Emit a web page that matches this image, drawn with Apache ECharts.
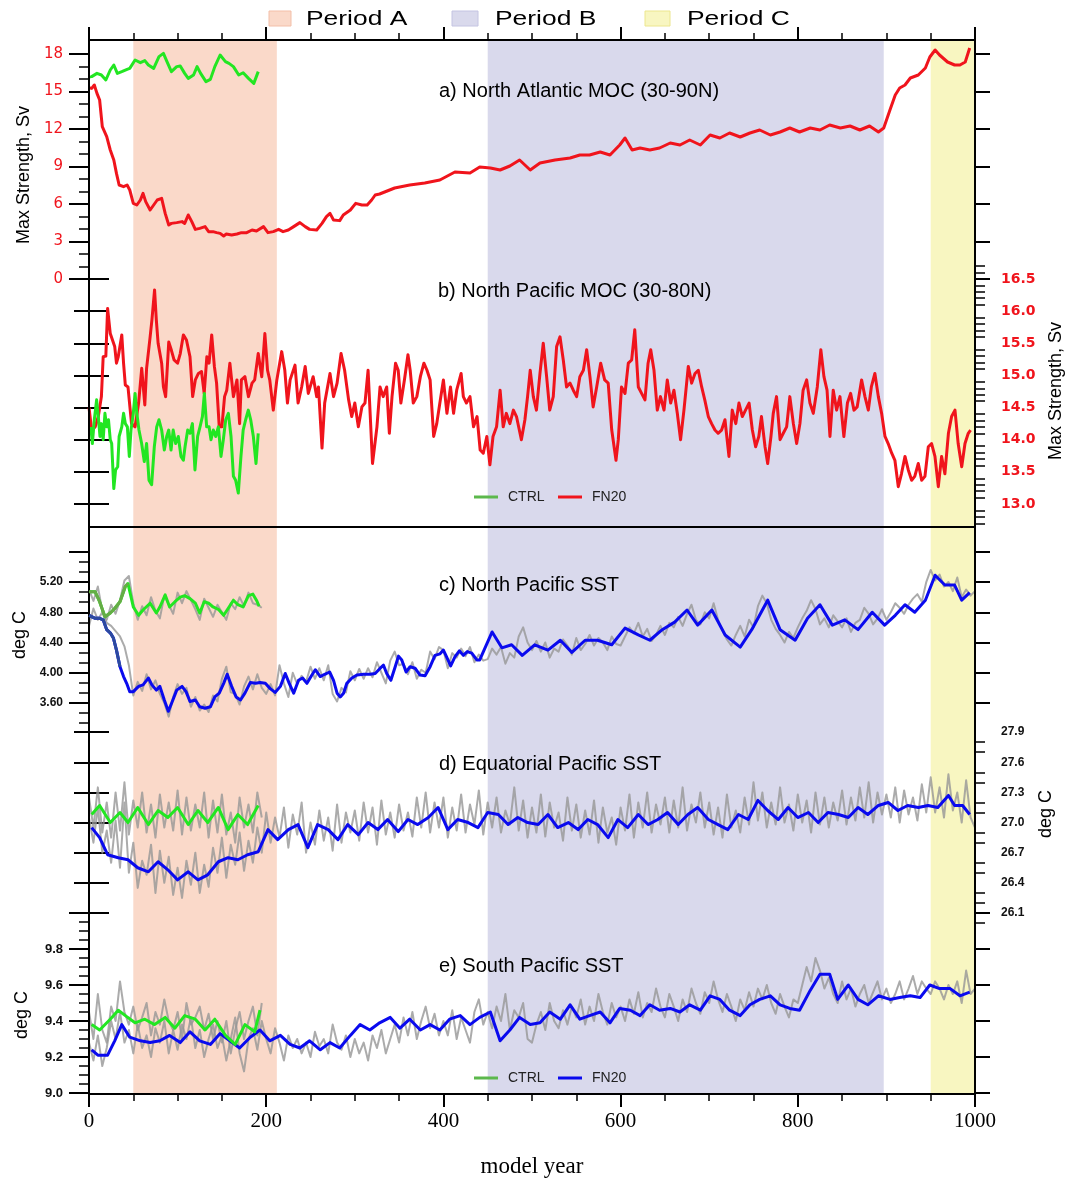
<!DOCTYPE html>
<html>
<head>
<meta charset="utf-8">
<script src="https://cdn.jsdelivr.net/npm/echarts@6/dist/echarts.min.js"></script>
<style>
html,body{margin:0;padding:0;background:#fff}
#chart{width:1067px;height:1179px}
</style>
</head>
<body>
<div id="chart"></div>
<script>
// ---------------- data ----------------
// shaded experiment periods (model years)
const periodA = [50, 212];
const periodB = [450, 897];
const periodC = [950, 1000];

// a) North Atlantic MOC max strength (Sv)
const aCTRL = [[0,16.15],[3,16.19],[9,16.45],[14,16.32],[19,15.92],[24,16.72],[28,17.12],[32,16.45],[37,16.59],[43,16.77],[46,16.85],[52,17.52],[58,17.31],[63,17.47],[67,17.12],[73,16.85],[79,17.79],[84,18.05],[88,17.39],[93,16.59],[99,16.99],[103,17.04],[108,16.45],[112,16.05],[118,16.32],[122,16.99],[126,16.45],[132,15.79],[137,15.97],[142,16.99],[148,17.92],[154,17.39],[158,17.25],[163,16.99],[169,16.32],[174,16.5],[180,16.05],[186,15.65],[191,16.59]];
const aFN20 = [[0,15.3],[3,15.25],[6,15.52],[9,14.85],[12,14.32],[15,12.19],[20,11.39],[24,10.32],[28,9.52],[31,8.45],[34,7.52],[39,7.39],[43,7.52],[46,7.12],[50,6.05],[54,5.92],[58,6.32],[61,6.85],[64,6.19],[69,5.52],[73,5.92],[77,6.32],[82,6.45],[86,5.25],[90,4.32],[93,4.45],[99,4.51],[105,4.59],[108,4.45],[112,5.12],[116,4.59],[120,3.97],[125,4.05],[131,4.19],[135,3.79],[140,3.79],[144,3.71],[148,3.65],[152,3.44],[155,3.6],[161,3.52],[167,3.6],[172,3.71],[178,3.71],[184,3.92],[189,3.84],[197,4.19],[202,3.71],[208,3.79],[214,3.97],[219,3.79],[225,3.92],[231,4.19],[238,4.51],[244,4.19],[249,3.97],[257,3.92],[263,4.45],[268,4.99],[272,5.25],[276,4.72],[283,4.67],[287,5.12],[295,5.52],[301,6.05],[308,5.92],[314,5.92],[319,6.32],[323,6.72],[328,6.8],[345,7.28],[362,7.52],[379,7.68],[396,7.92],[413,8.56],[430,8.48],[441,8.96],[453,8.88],[464,8.72],[475,9.04],[486,9.52],[498,8.72],[509,9.28],[526,9.52],[543,9.68],[554,9.92],[565,9.92],[577,10.16],[588,9.92],[599,10.72],[605,11.28],[613,10.32],[622,10.48],[633,10.32],[644,10.48],[656,10.88],[667,10.72],[678,11.12],[690,10.72],[701,11.52],[712,11.28],[723,11.68],[735,11.36],[746,11.68],[757,11.92],[769,11.52],[780,11.76],[791,12.08],[802,11.76],[814,12.08],[825,11.92],[836,12.32],[848,12.08],[859,12.24],[870,11.92],[881,12.24],[891,11.76],[897,12.08],[904,13.52],[910,14.72],[915,15.28],[921,15.52],[927,16.08],[936,16.32],[944,16.88],[949,17.76],[955,18.32],[960,17.92],[969,17.36],[977,17.12],[983,17.12],[989,17.36],[994,18.48]];

// b) North Pacific MOC max strength (Sv)
const bCTRL = [[2,14.2],[3.8,13.94],[6,14.31],[8.6,14.62],[10.5,14.36],[12.4,14.05],[14,14.25],[16,14.0],[18,14.41],[20,14.2],[22,14.31],[24,14.0],[25.6,13.94],[28,13.24],[30,13.53],[32.4,13.58],[34,14.05],[37,14.2],[39,14.41],[41,14.25],[43.3,14.2],[45.5,13.74],[47.4,14.15],[50,14.41],[52,14.72],[54,14.41],[56.4,14.15],[59.4,13.94],[62.4,13.66],[65,13.94],[67.7,13.37],[70.7,13.3],[73.7,13.89],[76.4,14.2],[79,14.31],[82,14.15],[85,13.84],[87.7,14.05],[90,14.15],[92.6,13.84],[95,14.15],[97.8,13.94],[100.8,14.05],[103.8,13.74],[106.5,13.68],[108.4,13.89],[111.4,14.15],[114,14.1],[116.7,14.25],[119.6,13.53],[122.6,14.05],[125.3,14.2],[128,14.36],[130.2,14.72],[132.8,14.2],[135.5,14.2],[137.7,14.0],[140.3,14.15],[143,14.05],[146,14.2],[149,13.74],[151.6,14.0],[154.3,14.31],[157.3,14.41],[160.3,14.05],[163,13.43],[165.5,13.37],[168.5,13.17],[171.5,13.74],[174,14.15],[176.8,14.31],[179.8,14.46],[182.5,14.31],[185.5,14.05],[188.5,13.63],[191,14.1]];
const bFN20 = [[0,14.5],[3,14.15],[7,14.2],[10.5,14.36],[14,14.67],[16,15.29],[19,15.3],[21,16.04],[24,15.65],[26,15.68],[29,15.45],[31,15.19],[33,15.29],[37,15.63],[39,15.19],[41,14.85],[44,14.82],[48,14.25],[52,14.2],[56,14.57],[59.5,15.11],[63,14.54],[65,15.11],[69,15.6],[71,15.86],[74,16.33],[76,15.86],[78,15.5],[82,15.19],[84,14.82],[86.5,14.67],[90,15.52],[93,15.39],[96,15.24],[100,15.19],[103,15.34],[106.5,15.63],[110,15.55],[114,15.29],[117,14.67],[120,14.93],[123.5,15.03],[127,15.06],[130,14.72],[133,15.29],[135.5,15.19],[138.5,15.63],[141.5,15.14],[144,14.88],[147,14.2],[150,14.2],[153,14.67],[155.5,14.77],[159,15.19],[163,14.67],[167,14.93],[170,14.25],[172,14.93],[176,14.98],[180,14.67],[184,14.88],[187,14.93],[191,15.34],[195,14.98],[198.5,15.65],[201.5,15.08],[204,14.93],[208,14.46],[212,14.93],[217.5,15.37],[221,15.08],[224,14.57],[227,14.93],[232.5,15.16],[236,14.57],[240,14.82],[244,15.14],[247.5,14.72],[253,14.98],[257,14.67],[259,14.82],[263,13.87],[266,14.57],[272,15.03],[276,14.67],[280,14.88],[284.5,15.34],[288.5,15.08],[293,14.62],[296.5,14.36],[300,14.57],[304,14.2],[308,14.51],[311.5,14.57],[315,15.08],[320,13.63],[325,14.2],[328.5,14.82],[332,14.67],[336,14.82],[339,14.1],[342,14.67],[346,15.19],[349,15.08],[352,14.57],[356,14.93],[360,15.32],[362.5,15.08],[366,14.57],[370,14.67],[374,14.98],[378,15.19],[381.5,15.08],[385,14.93],[389,14.05],[392.5,14.25],[396,14.57],[400,14.93],[404,14.41],[408,14.82],[411.5,14.41],[415,14.77],[420,15.03],[422.5,14.67],[426,14.57],[430,14.67],[434,14.2],[438,14.36],[441.5,13.84],[445,13.79],[449,14.05],[452.5,13.61],[456,14.05],[460,14.2],[464,14.77],[467.5,14.2],[471,14.41],[475,14.25],[479,14.46],[482.5,14.36],[488,14.0],[492,14.31],[495,14.67],[498,15.08],[501.5,14.67],[505,14.46],[509,15.03],[512.7,15.5],[516.5,14.98],[520,14.46],[524,14.67],[527.8,15.45],[531.6,15.6],[535.3,15.24],[539,14.82],[542.9,14.88],[546.6,14.77],[550.4,14.67],[554,14.98],[558,15.08],[561.7,15.4],[565.4,14.98],[569,14.51],[573,14.82],[577.5,15.19],[582,14.93],[586,14.88],[590,14.15],[594.8,13.68],[597.4,14.0],[601,14.82],[605,14.72],[608.7,15.19],[612.5,15.24],[616,15.71],[620,14.82],[623.7,14.72],[627.5,14.62],[631,15.19],[634,15.4],[637.7,15.08],[641.4,14.46],[645,14.67],[649,14.46],[652.7,14.93],[656.5,14.57],[660.2,14.77],[664,14.41],[667.7,14.0],[671.5,14.46],[676.4,15.14],[680.2,14.88],[684,15.03],[687.7,15.08],[691.5,14.82],[695,14.62],[699,14.36],[702.7,14.25],[706.5,14.15],[710,14.1],[714,14.15],[717.8,14.31],[722.3,13.74],[726,14.46],[730,14.25],[733.6,14.57],[737.4,14.36],[741,14.46],[745,14.57],[748.7,14.15],[752.4,13.89],[756,14.05],[759,14.36],[763,13.89],[766,13.63],[769.7,14.05],[772.3,14.41],[776,14.67],[780,14.0],[783.6,14.1],[787.4,14.2],[791,14.67],[795,14.25],[798.7,13.94],[802.4,14.25],[806,14.77],[810,14.93],[813.7,14.57],[817.5,14.41],[822,14.82],[826,15.4],[829.5,14.98],[833,14.77],[836.3,14.05],[840,14.77],[843.8,14.46],[847.6,14.67],[852,14.05],[856,14.57],[859.6,14.72],[863.4,14.46],[867,14.51],[872,14.93],[875.8,14.67],[879.6,14.46],[883,14.82],[887,15.03],[890.9,14.67],[894.6,14.41],[898.4,14.05],[902,13.94],[906,13.79],[909.6,13.68],[913.4,13.27],[917,13.47],[921,13.74],[924.7,13.53],[928.5,13.37],[932,13.43],[936,13.63],[939.8,13.37],[943.5,13.43],[947.3,13.89],[951,13.94],[954.8,13.74],[958.6,13.27],[962.3,13.74],[966,13.47],[970,14.1],[973.6,14.36],[977.4,14.46],[981,13.94],[985,13.58],[988.7,13.94],[992.4,14.1],[995,14.15]];

// annual SST series sampled every 5 model years (deg C)
const rawStep = 5;
const cRawCTRL = [5.10,4.95,5.14,4.82,4.70,4.90,4.78,4.96,5.22,5.28, 4.92,4.70,4.88,4.76,5.00,4.82,4.72,5.02,4.90,4.78, 5.06,4.92,5.08,4.96,4.84,4.70,4.98,4.86,4.74,4.90, 4.80,4.70,4.92,4.84,5.00,4.88,5.06,4.92,4.90,4.86];
const cRawFN20 = [4.62,4.85,4.70,4.80,4.66,4.62,4.55,4.48,4.35,4.10, 3.70,3.88,3.76,3.98,3.78,3.90,3.72,3.60,3.42,3.68, 3.85,3.72,3.80,3.55,3.68,3.50,3.58,3.48,3.70,3.62, 3.92,4.08,3.74,3.72,3.58,3.82,3.95,3.78,3.98,3.80, 3.72,3.85,3.70,4.10,3.86,3.68,4.00,3.85,3.96,3.88, 4.08,3.92,4.06,3.90,4.10,3.72,3.62,3.80,3.74,4.02, 3.90,4.05,3.92,4.06,3.94,4.14,4.00,3.86,4.16,4.28, 4.10,4.12,3.98,4.14,3.92,4.04,4.00,4.28,4.18,4.34, 4.30,4.06,4.26,4.20,4.32,4.22,4.34,4.14,4.24,4.16, 4.18,4.32,4.24,4.34,4.12,4.26,4.20,4.48,4.60,4.40, 4.30,4.42,4.28,4.40,4.20,4.32,4.28,4.44,4.36,4.24, 4.46,4.30,4.38,4.50,4.36,4.46,4.40,4.30,4.48,4.38, 4.36,4.48,4.60,4.52,4.66,4.48,4.58,4.42,4.50,4.62, 4.50,4.66,4.60,4.74,4.62,4.78,4.90,4.70,4.64,4.80, 4.72,4.92,4.70,4.56,4.44,4.36,4.50,4.62,4.48,4.70, 4.60,4.88,5.02,4.92,4.70,4.58,4.50,4.40,4.54,4.46, 4.60,4.72,4.82,4.96,4.84,4.64,4.72,4.60,4.76,4.68, 4.60,4.72,4.54,4.66,4.70,4.86,4.78,4.64,4.72,4.84, 4.70,4.80,4.92,4.86,4.78,4.90,4.98,5.04,4.94,5.20, 5.36,5.22,5.30,5.14,5.20,5.08,5.26,5.00,5.10,5.02, 5.08];
const dRawCTRL = [27.25,26.95,27.35,26.90,27.20,26.85,27.30,26.92,27.40,26.88, 27.22,26.95,27.30,26.90,27.18,26.85,27.28,26.95,27.20,26.92, 27.32,26.88,27.25,26.92,27.18,26.95,27.30,26.85,27.22,26.90, 27.28,26.88,27.10,26.80,27.25,26.95,27.18,26.90,27.30,27.05];
const dRawFN20 = [27.05,26.80,27.15,26.70,26.92,26.60,27.02,26.55,27.20,26.50, 26.80,26.35,26.62,26.48,26.78,26.30,26.72,26.40,26.66,26.28, 26.55,26.25,26.62,26.38,26.70,26.30,26.58,26.36,26.75,26.50, 26.85,26.45,26.78,26.58,26.90,26.52,26.82,26.60,26.95,26.70, 27.10,26.80,27.05,26.85,27.15,26.75,27.08,26.88,27.20,26.70, 27.00,26.78,27.12,26.82,27.05,26.72,27.18,26.80,27.10,26.90, 27.12,26.82,27.20,26.90,27.15,26.78,27.22,26.88,27.10,26.85, 27.18,26.92,27.10,26.86,27.25,26.95,27.30,26.90,27.20,26.95, 27.25,26.85,27.15,26.92,27.28,26.90,27.18,26.98,27.32,26.88, 27.20,26.95,27.25,26.90,27.12,26.98,27.35,26.92,27.22,26.85, 27.15,26.90,27.28,26.86,27.20,26.95,27.10,26.82,27.25,26.92, 27.18,26.85,27.12,26.88,27.22,26.80,27.15,26.90,27.05,26.78, 27.15,26.92,27.28,26.85,27.20,26.95,27.30,26.90,27.18,26.98, 27.25,26.90,27.22,26.95,27.35,26.92,27.18,27.00,27.30,26.95, 27.20,26.88,27.15,26.85,27.28,26.95,27.12,26.90,27.25,26.98, 27.40,27.02,27.30,26.95,27.20,26.98,27.35,27.00,27.18,26.92, 27.28,27.00,27.22,26.90,27.30,26.98,27.25,26.95,27.20,27.02, 27.32,26.98,27.25,27.02,27.35,27.05,27.40,27.00,27.30,27.08, 27.28,27.05,27.35,27.00,27.32,27.08,27.25,27.02,27.38,27.10, 27.45,27.10,27.35,27.05,27.48,27.12,27.30,27.00,27.42,27.05, 26.95];
const eRawCTRL = [9.45,9.30,9.55,9.35,9.28,9.48,9.40,9.62,9.45,9.38, 9.48,9.35,9.42,9.50,9.32,9.45,9.38,9.52,9.40,9.35, 9.45,9.30,9.50,9.38,9.42,9.48,9.35,9.44,9.30,9.40, 9.28,9.40,9.22,9.35,9.45,9.30,9.40,9.48,9.32,9.50];
const eRawFN20 = [9.28,9.18,9.32,9.15,9.25,9.40,9.30,9.45,9.28,9.35, 9.22,9.38,9.25,9.32,9.20,9.36,9.28,9.40,9.22,9.35, 9.24,9.38,9.30,9.42,9.25,9.35,9.20,9.30,9.38,9.25, 9.32,9.18,9.30,9.42,9.22,9.12,9.30,9.36,9.24,9.40, 9.30,9.22,9.36,9.28,9.18,9.32,9.25,9.30,9.22,9.28, 9.20,9.34,9.26,9.30,9.22,9.38,9.28,9.24,9.32,9.20, 9.30,9.22,9.28,9.18,9.32,9.25,9.35,9.22,9.30,9.38, 9.28,9.42,9.32,9.45,9.30,9.40,9.48,9.36,9.44,9.32, 9.40,9.32,9.46,9.30,9.42,9.35,9.28,9.45,9.52,9.38, 9.45,9.36,9.48,9.40,9.55,9.35,9.46,9.42,9.50,9.30, 9.28,9.38,9.45,9.35,9.50,9.40,9.36,9.46,9.38,9.48, 9.42,9.52,9.38,9.48,9.40,9.55,9.45,9.38,9.50,9.42, 9.48,9.40,9.52,9.44,9.56,9.42,9.50,9.45,9.58,9.48, 9.42,9.55,9.48,9.40,9.52,9.45,9.58,9.50,9.44,9.56, 9.50,9.62,9.52,9.45,9.55,9.48,9.40,9.52,9.46,9.56, 9.48,9.58,9.52,9.60,9.50,9.44,9.55,9.48,9.42,9.52, 9.50,9.60,9.70,9.62,9.75,9.68,9.58,9.64,9.55,9.50, 9.62,9.52,9.58,9.48,9.55,9.60,9.50,9.56,9.62,9.52, 9.58,9.50,9.55,9.62,9.52,9.58,9.65,9.55,9.62,9.58, 9.55,9.62,9.58,9.52,9.60,9.55,9.62,9.50,9.68,9.55, 9.58];

// low-pass filtered SST (deg C)
const cCTRL = [[0,5.07],[2,5.07],[7,5.07],[12,4.94],[18,4.74],[24,4.79],[29,4.85],[35,4.94],[41,5.14],[44,5.18],[50,4.87],[56,4.76],[61,4.83],[69,4.92],[76,4.79],[80,4.87],[86,5.03],[91,4.87],[97,4.94],[103,5.0],[108,5.02],[114,4.98],[120,4.92],[125,4.79],[130,4.94],[135,4.92],[140,4.87],[146,4.84],[152,4.76],[157,4.85],[163,4.96],[168,4.90],[174,4.87],[180,5.02],[185,5.04],[189,4.96],[192,4.88]];
const cFN20 = [[0,4.76],[2,4.75],[7,4.72],[12,4.72],[16,4.70],[20,4.57],[24.5,4.52],[27.5,4.46],[31,4.30],[35,4.08],[39,3.95],[42.5,3.86],[46,3.75],[50,3.75],[56,3.82],[61,3.84],[67,3.93],[71,3.84],[76,3.77],[80,3.82],[85,3.64],[89.5,3.49],[94,3.62],[99,3.77],[105,3.82],[109.5,3.75],[114,3.62],[120,3.64],[125,3.55],[131,3.53],[137,3.55],[142,3.68],[147,3.73],[152,3.86],[156,3.98],[161,3.82],[166,3.68],[171,3.64],[176,3.73],[182,3.87],[188,3.86],[193,3.87],[199,3.86],[204.5,3.79],[210,3.74],[216,3.82],[221.5,3.99],[226,3.86],[231,3.73],[236.5,3.9],[241,3.93],[246,3.86],[251.6,3.97],[255.4,4.04],[261,3.95],[266,3.98],[271.6,4.01],[276,3.9],[280,3.73],[283.6,3.68],[287.3,3.73],[291,3.86],[296.7,3.93],[302.4,3.97],[310,3.98],[317.4,3.98],[323,3.99],[328.7,4.06],[332.4,4.10],[336,3.99],[340.7,3.9],[345.6,4.08],[349.3,4.22],[353,4.17],[357.9,4.01],[362.4,4.08],[368,4.06],[373.6,3.97],[379.3,3.96],[385,4.08],[390.5,4.23],[396.2,4.25],[400,4.30],[403.6,4.21],[408.2,4.09],[413,4.21],[418,4.29],[422.5,4.23],[427,4.28],[432,4.26],[437.7,4.17],[441,4.17],[455,4.54],[466,4.33],[477,4.37],[489,4.23],[503,4.37],[518,4.30],[532,4.43],[545,4.27],[560,4.43],[574,4.43],[590,4.37],[605,4.59],[620,4.50],[633,4.43],[647,4.57],[661,4.67],[675,4.83],[687,4.63],[703,4.83],[718,4.50],[735,4.34],[748,4.57],[766,4.96],[780,4.57],[797,4.43],[811,4.72],[825,4.90],[839,4.63],[853,4.70],[868,4.57],[884,4.80],[898,4.63],[910,4.76],[921,4.90],[932,4.80],[944,4.96],[955,5.29],[966,5.16],[977,5.16],[985,4.96],[994,5.06]];
const dCTRL = [[3,27.08],[12,27.17],[24,27.0],[35,27.1],[44,27.0],[55,27.15],[67,26.98],[78,27.12],[89,27.05],[100,27.15],[112,26.98],[123,27.12],[134,27.0],[146,27.15],[157,26.93],[168,27.08],[179,26.98],[191,27.17]];
const dFN20 = [[3,26.95],[12,26.85],[21,26.68],[33,26.65],[44,26.63],[55,26.55],[67,26.51],[78,26.61],[89,26.53],[100,26.43],[112,26.51],[123,26.43],[134,26.48],[146,26.61],[157,26.65],[168,26.63],[179,26.68],[191,26.71],[202,26.93],[213,26.83],[225,26.93],[236,26.98],[247,26.75],[258,26.98],[270,26.93],[281,26.83],[292,26.98],[304,26.88],[315,27.0],[326,26.93],[337,27.03],[349,26.91],[360,27.03],[371,26.98],[383,27.05],[394,27.15],[405,26.93],[416,27.03],[428,27.0],[439,26.95],[450,27.1],[462,27.08],[473,26.98],[484,27.05],[495,27.0],[507,26.98],[518,27.08],[529,26.95],[541,27.0],[552,26.93],[563,27.03],[574,26.98],[586,26.85],[597,27.03],[608,26.95],[620,27.08],[631,26.98],[642,27.03],[653,27.1],[665,26.98],[676,27.08],[687,27.15],[699,27.03],[710,26.98],[721,26.93],[733,27.08],[744,27.03],[755,27.22],[766,27.12],[778,27.03],[789,27.15],[800,27.05],[812,27.1],[823,27.0],[834,27.1],[846,27.08],[857,27.05],[868,27.15],[879,27.08],[891,27.17],[902,27.2],[913,27.12],[924,27.17],[936,27.15],[947,27.17],[958,27.15],[970,27.27],[977,27.17],[986,27.17],[994,27.08]];
const eCTRL = [[3,9.38],[12,9.35],[24,9.41],[33,9.46],[41,9.43],[52,9.39],[63,9.41],[74,9.38],[86,9.42],[97,9.36],[108,9.43],[120,9.41],[131,9.35],[142,9.41],[154,9.32],[165,9.27],[176,9.38],[187,9.34],[193,9.46]];
const eFN20 = [[3,9.24],[10,9.21],[21,9.21],[29,9.29],[37,9.38],[46,9.31],[58,9.29],[69,9.28],[80,9.29],[91,9.32],[103,9.28],[114,9.34],[125,9.29],[137,9.27],[148,9.33],[159,9.29],[170,9.25],[182,9.31],[193,9.35],[204,9.29],[216,9.32],[227,9.27],[238,9.25],[249,9.29],[261,9.24],[272,9.28],[283,9.25],[295,9.32],[306,9.38],[317,9.35],[328,9.39],[340,9.42],[351,9.36],[362,9.41],[374,9.35],[385,9.38],[396,9.35],[407,9.41],[419,9.43],[430,9.38],[441,9.42],[453,9.45],[464,9.29],[475,9.35],[486,9.42],[498,9.38],[509,9.39],[520,9.45],[532,9.41],[543,9.49],[554,9.41],[565,9.43],[577,9.45],[588,9.39],[599,9.47],[611,9.46],[622,9.43],[633,9.49],[644,9.46],[656,9.47],[667,9.45],[678,9.49],[690,9.46],[701,9.54],[712,9.52],[723,9.46],[735,9.43],[746,9.49],[757,9.52],[769,9.54],[780,9.49],[791,9.47],[802,9.46],[814,9.57],[825,9.66],[836,9.66],[845,9.52],[857,9.6],[868,9.52],[879,9.49],[891,9.54],[904,9.52],[915,9.53],[927,9.54],[938,9.53],[949,9.6],[960,9.58],[972,9.58],[983,9.54],[994,9.56]];

// tick values
const xTicks = [0, 200, 400, 600, 800, 1000];
const aTicks = [0, 3, 6, 9, 12, 15, 18];
const bTicks = [13.0, 13.5, 14.0, 14.5, 15.0, 15.5, 16.0, 16.5];
const cTicks = [3.2, 3.6, 4.0, 4.4, 4.8, 5.2, 5.6];
const cLabels = [3.6, 4.0, 4.4, 4.8, 5.2];
const dTicks = [26.1, 26.4, 26.7, 27.0, 27.3, 27.6, 27.9];
const eTicks = [9.0, 9.2, 9.4, 9.6, 9.8, 10.0];
const eLabels = [9.0, 9.2, 9.4, 9.6, 9.8];

// ---------------- layout helpers ----------------
const PLOT_L = 89, PLOT_R = 975;
const SANS = '"Liberation Sans", Arial, Helvetica, sans-serif';
const WIDE = '"DejaVu Sans", Verdana, sans-serif';
const SERIF = '"Liberation Serif", "Times New Roman", serif';
const RED = '#f0141c', GREEN = '#22e622', BLUE = '#0a0aee', GRAY = 'rgba(150,150,150,0.8)';
const LEG_GREEN = '#5cb84c';
// the first decades of panel c sit under the annual traces and read darker
const C_GREEN_EARLY = '#66ac46', C_BLUE_EARLY = '#2c4a9e';

function fill(lo, hi, step, skip) {
  const out = [];
  for (let v = lo; v <= hi + 1e-9; v += step) {
    const r = Math.round(v * 1000) / 1000;
    if (!skip.some(s => Math.abs(s - r) < 1e-6)) out.push(r);
  }
  return out;
}
function toPairs(arr, step) { return arr.map((v, i) => [i * step, v]); }

// each panel: pixel band, one reference pixel/value and pixels per unit
const panels = [
  { top: 40,  bottom: 279, refPx: 279,  refVal: 0,    ppu: 12.5 },
  { top: 260, bottom: 527, refPx: 504,  refVal: 13.0, ppu: 64.3 },
  { top: 527, bottom: 733, refPx: 703,  refVal: 3.6,  ppu: 75.6 },
  { top: 732, bottom: 933, refPx: 913,  refVal: 26.1, ppu: 100.5 },
  { top: 913, bottom: 1093, refPx: 1093, refVal: 9.0, ppu: 180 }
];
panels.forEach(p => {
  p.min = p.refVal - (p.bottom - p.refPx) / p.ppu;
  p.max = p.refVal + (p.refPx - p.top) / p.ppu;
});

const grids = [{ left: PLOT_L, width: PLOT_R - PLOT_L, top: 40, height: 1054, outerBoundsMode: 'none',
  show: true, borderColor: '#000', borderWidth: 2, backgroundColor: 'transparent', z: 5 }];
panels.forEach(p => grids.push({ left: PLOT_L, width: PLOT_R - PLOT_L, top: p.top, height: p.bottom - p.top,
  outerBoundsMode: 'none' }));

const xAxes = [
  { gridIndex: 0, type: 'value', position: 'bottom', min: 0, max: 1000, interval: 200,
    axisLine: { lineStyle: { color: '#000', width: 2 } },
    axisTick: { length: 13, lineStyle: { color: '#000', width: 2 } },
    minorTick: { show: true, splitNumber: 4, length: 7, lineStyle: { color: '#000', width: 1.5 } },
    splitLine: { show: false },
    axisLabel: { margin: 17, fontFamily: SERIF, fontSize: 21, color: '#000', formatter: v => String(v) },
    name: 'model year', nameLocation: 'middle', nameGap: 61,
    nameTextStyle: { fontFamily: SERIF, fontSize: 23, color: '#000' } },
  { gridIndex: 0, type: 'value', position: 'top', min: 0, max: 1000, interval: 200,
    axisLine: { lineStyle: { color: '#000', width: 2 } },
    axisTick: { length: 13, lineStyle: { color: '#000', width: 2 } },
    minorTick: { show: true, splitNumber: 4, length: 7, lineStyle: { color: '#000', width: 1.5 } },
    splitLine: { show: false }, axisLabel: { show: false } }
];
panels.forEach((p, i) => xAxes.push({ gridIndex: i + 1, type: 'value', min: 0, max: 1000, show: false }));

const yAxes = [{ gridIndex: 0, type: 'value', min: 0, max: 1, show: false }];
function panelAxes(gi, p, side, majors, labels, minors, labelStyle, fmt) {
  const other = side === 'left' ? 'right' : 'left';
  const base = { gridIndex: gi, type: 'value', min: p.min, max: p.max,
    splitLine: { show: false }, axisLine: { show: false } };
  yAxes.push(Object.assign({}, base, { position: side,
    axisTick: { show: true, customValues: majors, length: 20, lineStyle: { color: '#000', width: 2 } },
    axisLabel: Object.assign({ show: true, customValues: labels, margin: 26, formatter: fmt }, labelStyle) }));
  yAxes.push(Object.assign({}, base, { position: side,
    axisTick: { show: true, customValues: minors, length: 10, lineStyle: { color: '#000', width: 1.5 } },
    axisLabel: { show: false } }));
  yAxes.push(Object.assign({}, base, { position: other,
    axisTick: { show: true, customValues: majors, length: 15, lineStyle: { color: '#000', width: 2 } },
    axisLabel: { show: false } }));
  return yAxes.length - 3;
}
const ya = panelAxes(1, panels[0], 'left', aTicks, aTicks, fill(1, 17, 1, aTicks),
  { fontFamily: WIDE, fontSize: 15, color: RED }, v => String(Math.round(v)));
const yb = panelAxes(2, panels[1], 'right', bTicks, bTicks, fill(12.7, 16.7, 0.1, bTicks),
  { fontFamily: WIDE, fontSize: 14, fontWeight: 'bold', color: RED }, v => v.toFixed(1));
const cMinor = [];
cTicks.slice(0, -1).forEach(t => { cMinor.push(t + 0.4 / 3, t + 0.8 / 3); });
const yc = panelAxes(3, panels[2], 'left', cTicks, cLabels, cMinor,
  { fontFamily: SANS, fontSize: 12, fontWeight: 'bold', color: '#111' }, v => v.toFixed(2));
const yd = panelAxes(4, panels[3], 'right', dTicks, dTicks, fill(26.0, 27.8, 0.1, dTicks),
  { fontFamily: SANS, fontSize: 12, fontWeight: 'bold', color: '#111' }, v => v.toFixed(1));
const ye = panelAxes(5, panels[4], 'left', eTicks, eLabels, fill(9.05, 9.95, 0.05, eTicks),
  { fontFamily: SANS, fontSize: 13, fontWeight: 'bold', color: '#111' }, v => v.toFixed(1));

function line(name, xi, yi, data, color, width, z) {
  return { name, type: 'line', xAxisIndex: xi, yAxisIndex: yi, data, symbol: 'none',
    lineStyle: { color, width, join: 'round' }, itemStyle: { color }, z: z || 3, animation: false, silent: true };
}
function period(name, range, color) {
  return { name, type: 'scatter', xAxisIndex: 0, yAxisIndex: 0, data: [], itemStyle: { color }, z: 1,
    silent: true, animation: false,
    markArea: { silent: true, itemStyle: { color }, data: [[{ xAxis: range[0] }, { xAxis: range[1] }]] } };
}

const series = [
  period('Period A', periodA, '#fad9c9'),
  period('Period B', periodB, '#d9d9ec'),
  period('Period C', periodC, '#f8f6c1'),
  line('CTRL', 2, ya, aCTRL, GREEN, 3),
  line('FN20', 2, ya, aFN20, RED, 3),
  line('CTRL', 3, yb, bCTRL, GREEN, 3, 4),
  line('FN20', 3, yb, bFN20, RED, 3),
  line('CTRL annual', 4, yc, toPairs(cRawCTRL, rawStep), GRAY, 2, 2),
  line('FN20 annual', 4, yc, toPairs(cRawFN20, rawStep), GRAY, 2, 2),
  line('FN20', 4, yc, cFN20, BLUE, 3),
  line('CTRL', 4, yc, cCTRL, GREEN, 3, 4),
  line('FN20', 4, yc, cFN20.filter(p => p[0] <= 36), C_BLUE_EARLY, 3, 5),
  line('CTRL', 4, yc, cCTRL.filter(p => p[0] <= 47), C_GREEN_EARLY, 3, 5),
  line('CTRL annual', 5, yd, toPairs(dRawCTRL, rawStep), GRAY, 2, 2),
  line('FN20 annual', 5, yd, toPairs(dRawFN20, rawStep), GRAY, 2, 2),
  line('FN20', 5, yd, dFN20, BLUE, 3),
  line('CTRL', 5, yd, dCTRL, GREEN, 3, 4),
  line('CTRL annual', 6, ye, toPairs(eRawCTRL, rawStep), GRAY, 2, 2),
  line('FN20 annual', 6, ye, toPairs(eRawFN20, rawStep), GRAY, 2, 2),
  line('FN20', 6, ye, eFN20, BLUE, 3),
  line('CTRL', 6, ye, eCTRL, GREEN, 3, 4)
];

function label(text, x, y, size, rotate, opts) {
  return Object.assign({ type: 'text', x, y, rotation: rotate ? Math.PI / 2 : 0, z: 100,
    style: { text, font: size + 'px ' + SANS, fill: '#000',
      align: rotate ? 'center' : 'left', verticalAlign: 'middle' } }, opts || {});
}
function keyText(text, x, y) {
  return { type: 'text', x, y, z: 100,
    style: { text, font: '14px ' + SANS, fill: '#222', align: 'left', verticalAlign: 'middle' } };
}
// key entry: swatch box or line sample followed by its text
function keyBox(x, y, w, h, color, border) {
  return { type: 'rect', shape: { x, y, width: w, height: h }, z: 100,
    style: { fill: color, stroke: border, lineWidth: 1 } };
}
function keyLine(x, y, color) {
  return { type: 'line', shape: { x1: x, y1: y, x2: x + 24, y2: y }, z: 100,
    style: { stroke: color, lineWidth: 3 } };
}
const graphics = [
  { type: 'line', shape: { x1: PLOT_L, y1: 527, x2: PLOT_R, y2: 527 }, style: { stroke: '#000', lineWidth: 2 }, z: 100 },
  // period key along the top
  keyBox(269, 11, 22, 15, '#fad9c9', '#f3bfa8'),
  label('Period A', 306, 19, 20, false, { scaleX: 1.32, originX: 0 }),
  keyBox(452, 11, 26, 15, '#d9d9ec', '#c4c4e2'),
  label('Period B', 495, 19, 20, false, { scaleX: 1.32, originX: 0 }),
  keyBox(645, 11, 25, 15, '#f8f6c1', '#ece68e'),
  label('Period C', 687, 19, 20, false, { scaleX: 1.32, originX: 0 }),
  // run keys inside panels b and e
  keyLine(474, 497, LEG_GREEN), keyText('CTRL', 508, 497),
  keyLine(558, 497, RED), keyText('FN20', 592, 497),
  keyLine(474, 1078, LEG_GREEN), keyText('CTRL', 508, 1078),
  keyLine(558, 1078, BLUE), keyText('FN20', 592, 1078),
  // panel titles
  label('a) North Atlantic MOC (30-90N)', 439, 91, 20),
  label('b) North Pacific MOC (30-80N)', 438, 291, 20),
  label('c) North Pacific SST', 439, 585, 20),
  label('d) Equatorial Pacific SST', 439, 764, 20),
  label('e) South Pacific SST', 439, 966, 20),
  // axis titles
  label('Max Strength, Sv', 24, 175, 18, true),
  label('Max Strength, Sv', 1056, 391, 18, true),
  label('deg C', 20, 635, 18, true),
  label('deg C', 1046, 814, 18, true),
  label('deg C', 22, 1015, 18, true)
];

const chart = echarts.init(document.getElementById('chart'), null, { renderer: 'canvas' });
chart.setOption({
  animation: false,
  backgroundColor: '#fff',
  grid: grids,
  xAxis: xAxes,
  yAxis: yAxes,
  series,
  graphic: graphics
});
</script>
</body>
</html>
